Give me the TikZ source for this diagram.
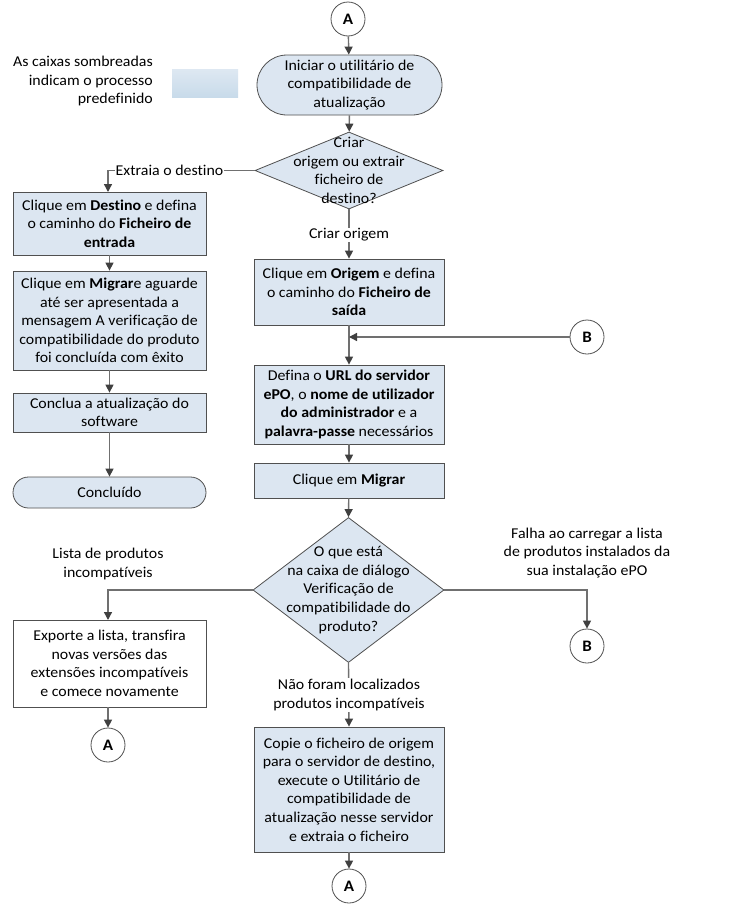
\documentclass[tikz,border=0pt]{standalone}
\usepackage{fontspec}
\setmainfont{Carlito}[FakeStretch=1.06,Ligatures=NoCommon]
\usetikzlibrary{shapes.geometric,shapes.misc,arrows.meta}
\definecolor{boxfill}{HTML}{DCE6F1}
\definecolor{boxline}{HTML}{505050}
\definecolor{conn}{HTML}{707070}
\definecolor{tipc}{HTML}{404040}
\definecolor{legtop}{HTML}{DEE8F2}
\definecolor{legbot}{HTML}{C8DBEA}
\tikzset{
  x=1pt,y=-1pt,
  every node/.style={font=\fontsize{15}{18.6}\selectfont, align=center, inner sep=0pt},
  proc/.style={draw=boxline, fill=boxfill, line width=0.8pt, rectangle},
  plain/.style={draw=boxline, fill=white, line width=0.8pt, rectangle},
  term/.style={draw=boxline, fill=boxfill, line width=0.8pt, rounded rectangle},
  dia/.style={draw=boxline, fill=boxfill, line width=0.8pt, diamond, minimum width=188pt, minimum height=77pt},
  conncirc/.style={draw=boxline, fill=white, circle, line width=0.8pt, minimum size=34pt, font=\fontsize{16}{18}\selectfont\bfseries},
  link/.style={draw=conn, line width=1.4pt, -{Triangle[width=8pt,length=8pt,color=tipc]}},
  lbl/.style={fill=white, inner sep=1pt},
}
\begin{document}
\begin{tikzpicture}
\useasboundingbox (0,0) rectangle (736,908);
\fill[white] (0,0) rectangle (736,908);

% legend
\node[anchor=east, align=right] (legtxt) at (153,81) {As caixas sombreadas\\indicam o processo\\predefinido};
\node[rectangle, minimum width=66pt, minimum height=28pt, top color=legtop, bottom color=legbot] (legbox) at (205,83) {};

% nodes
\node[conncirc] (A1) at (348,19) {A};
\node[term, minimum width=185pt, minimum height=60pt] (start) at (349.5,85) {Iniciar o utilitário de\\compatibilidade de\\atualização};
\node[dia, label={[align=center]center:{Criar\\origem ou extrair\\ficheiro de\\destino?}}] (d1) at (349,170.5) {};

\node[proc, minimum width=193pt, minimum height=63pt] (dest) at (109.5,223.5) {Clique em \textbf{Destino} e defina\\o caminho do \textbf{Ficheiro de}\\\textbf{entrada}};
\coordinate (destin) at (108,192);
\node[proc, minimum width=193pt, minimum height=99pt] (migl) at (109.5,320.5) {Clique em \textbf{Migrar}e aguarde\\até ser apresentada a\\mensagem A verificação de\\compatibilidade do produto\\foi concluída com êxito};
\node[proc, minimum width=193pt, minimum height=39pt] (concl) at (109.5,412.5) {Conclua a atualização do\\software};
\node[term, minimum width=193pt, minimum height=31pt] (done) at (109.5,492.5) {Concluído};

\node[proc, minimum width=190pt, minimum height=66pt] (orig) at (349,292) {Clique em \textbf{Origem} e defina\\o caminho do \textbf{Ficheiro de}\\\textbf{saída}};
\node[conncirc] (B1) at (587,337) {B};
\coordinate (join) at (349,337);
\node[proc, minimum width=190pt, minimum height=79pt] (url) at (349,404.5) {Defina o \textbf{URL do servidor}\\\textbf{ePO}, o \textbf{nome de utilizador}\\\textbf{do administrador} e a\\\textbf{palavra-passe} necessários};
\node[proc, minimum width=190pt, minimum height=35pt] (mig) at (349,480.5) {Clique em \textbf{Migrar}};
\node[dia, minimum width=191pt, minimum height=145pt, label={[align=center]center:{O que está\\na caixa de diálogo\\Verificação de\\compatibilidade do\\produto?}}] (d2) at (348.5,590) {};

\node[plain, minimum width=193pt, minimum height=87pt] (exp) at (109.5,663.5) {Exporte a lista, transfira\\novas versões das\\extensões incompatíveis\\e comece novamente};
\coordinate (expin) at (108,620);
\coordinate (expout) at (108,707);
\node[conncirc] (A2) at (108,745) {A};
\node[conncirc] (B2) at (587,646) {B};
\node[proc, minimum width=190pt, minimum height=125pt] (copy) at (349,789.5) {Copie o ficheiro de origem\\para o servidor de destino,\\execute o Utilitário de\\compatibilidade de\\atualização nesse servidor\\e extraia o ficheiro};
\node[conncirc] (A3) at (349,886) {A};

% connectors
\draw[link] (A1) -- (start);
\draw[link] (start) -- (d1);
\draw[link] (d1.west) -| (destin);
\draw[link] (d1.south) -- (orig.north);
\draw[link] (dest) -- (migl);
\draw[link] (migl) -- (concl);
\draw[link] (concl) -- (done);
\draw[link] (orig) -- (url);
\draw[link] (B1) -- (join);
\draw[link] (url) -- (mig);
\draw[link] (mig) -- (d2.north);
\draw[link] (d2.west) -| (expin);
\draw[link] (d2.east) -| (B2);
\draw[link] (expout) -- (A2);
\draw[link] (d2.south) -- (copy.north);
\draw[link] (copy) -- (A3);

% labels
\node[lbl] (l1) at (169.5,170.5) {Extraia o destino};
\node[lbl] (l2) at (349,235) {Criar origem};
\node (l3) at (108,564) {Lista de produtos\\incompatíveis};
\node (l4) at (587,553) {Falha ao carregar a lista\\de produtos instalados da\\sua instalação ePO};
\node[lbl] (l5) at (349,695) {Não foram localizados\\produtos incompatíveis};
\end{tikzpicture}
\end{document}
